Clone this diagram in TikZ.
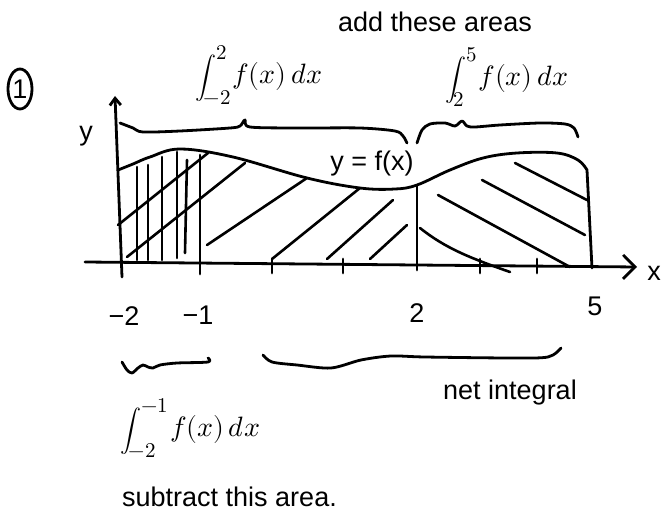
\documentclass[tikz,border=0pt]{standalone}
\usepackage{fontspec}
\usepackage{unicode-math}
\setmainfont{Liberation Sans}
\usetikzlibrary{arrows.meta}

\tikzset{
  pen/.style={line width=2.8pt, line cap=round, line join=round},
  hatch/.style={line width=2.6pt, line cap=round},
  lbl/.style={font=\fontsize{27}{30}\selectfont, inner sep=0pt},
}
\newcommand{\intlbl}[2]{{\fontsize{21}{24}\selectfont$\displaystyle\int_{\textstyle #1}^{\textstyle #2}$}\,{\fontsize{28}{32}\selectfont$f(x)\,dx$}}

\begin{document}
\begin{tikzpicture}[x=1pt,y=-1pt]
  \useasboundingbox (0,0) rectangle (665,519);
  % axes
  \coordinate (xs) at (85,262);
  \coordinate (xe) at (637,267);
  \coordinate (ys) at (122,277);
  \coordinate (ye) at (115,96);
  \draw[pen,-{Straight Barb[length=12pt,width=24pt]}] (xs) -- (xe);
  \draw[pen,-{Straight Barb[length=7pt,width=11pt]}] (ys) -- (ye);
  \foreach \t in {272,343,480,537}
    \draw[pen] (\t,259) -- (\t,273);
  % y = f(x)
  \draw[pen] plot[smooth,tension=0.6] coordinates {(118,170) (133,164) (150,157)
    (180,149) (233,157) (307,178) (360,188) (395,189) (417,185) (450,170)
    (483,158) (517,153) (557,153) (578,160) (587,170)} -- (592,268);
  \draw[pen] (417,186) -- (417,270);
  \draw[pen] (200,155) -- (200,274);
  % hatching from -2 to -1
  \foreach \a/\b/\c in {137/167/260, 148/165/260, 162/157/260, 177/152/258}
    \draw[hatch] (\a,\b) -- (\a,\c);
  \draw[hatch] (187,160) -- (185,253);
  % hatching from -2 to 2
  \foreach \ax/\ay/\bx/\by in {118/225/208/153, 127/257/245/163, 207/245/307/178,
      272/259/360/188, 327/259/393/200, 370/259/407/225}
    \draw[hatch] (\ax,\ay) -- (\bx,\by);
  % hatching from 2 to 5
  \foreach \ax/\ay/\bx/\by in {515/163/587/200, 482/180/585/235, 438/195/570/267}
    \draw[hatch] (\ax,\ay) -- (\bx,\by);
  \draw[hatch] (420,228) .. controls (445,248) and (470,258) .. (510,272);
  % braces
  \draw[pen] plot[smooth,tension=0.5] coordinates {(120,123) (133,128) (143,132)
    (180,131) (230,128) (240,126) (245,120) (250,127) (300,128) (360,128)
    (395,131) (403,136) (407,143)};
  \draw[pen] plot[smooth,tension=0.5] coordinates {(417,143) (422,130) (430,124)
    (445,123) (455,126) (462,121) (467,126) (475,127) (500,125) (540,123)
    (565,124) (574,128) (578,137)};
  \draw[pen] plot[smooth,tension=0.5] coordinates {(122,362) (127,370) (132,373)
    (138,368) (143,365) (148,367) (153,368) (160,365) (177,363) (208,362)
    (208,358)};
  \draw[pen] plot[smooth,tension=0.5] coordinates {(263,355) (272,362) (297,365)
    (331,368) (361,360) (391,356) (425,357) (510,358) (548,357) (561,348)};
  % labels
  \node[lbl] (num) at (20,89) {1};
  \draw[pen] (num.center) ellipse (12 and 20);
  \node[lbl] (addlbl) at (435,22) {add these areas};
  \node[anchor=west,inner sep=0pt] (intA) at (195,75) {\intlbl{-2}{2}};
  \node[anchor=west,inner sep=0pt] (intB) at (445,77) {\intlbl{2}{5}};
  \node[anchor=west,inner sep=0pt] (intC) at (120,428) {\intlbl{-2}{-1}};
  \node[lbl] (ylbl) at (86,136) {y};
  \node[lbl] (xlbl) at (654,273) {x};
  \node[lbl] (fxlbl) at (372,164) {y = f(x)};
  \node[lbl] (lm2) at (124,316) {−2};
  \node[lbl] (lm1) at (198,315) {−1};
  \node[lbl] (l2) at (417,313) {2};
  \node[lbl] (l5) at (595,306) {5};
  \node[lbl] (netlbl) at (510,393) {net integral};
  \node[lbl,anchor=west] (sublbl) at (122,497) {subtract this area.};
\end{tikzpicture}
\end{document}
